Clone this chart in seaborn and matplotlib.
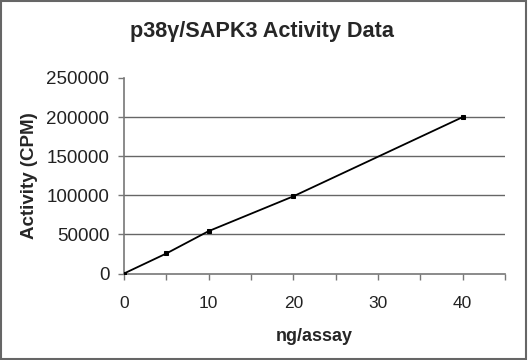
import matplotlib
matplotlib.use("Agg")
import matplotlib.pyplot as plt
import seaborn as sns
import pandas as pd
from matplotlib.patches import Rectangle

ng = [0, 5, 10, 20, 40]
activity = [0, 25600, 54200, 98700, 200000]
yticks = [0, 50000, 100000, 150000, 200000, 250000]
xticks = [0, 10, 20, 30, 40]

sns.set_theme(style="white")
plt.rcParams['font.family'] = ['Liberation Sans', 'DejaVu Sans']

df = pd.DataFrame({"ng": ng, "act": activity})
fig = plt.figure(figsize=(5.28, 3.6), dpi=100)
ax = fig.add_axes([124/528, 1-273.5/360, (505-124)/528, (273.5-78)/360])

for v in yticks[1:-1]:
    ax.axhline(v, color="#666666", lw=1, zorder=1)

sns.lineplot(data=df, x="ng", y="act", ax=ax, color="black", lw=1.3,
             marker="s", markersize=3.3, markeredgecolor="black", zorder=3)

ax.set_xlim(0, 45)
ax.set_ylim(0, 250000)
ax.set_xticks(range(0, 46, 5))
ax.set_xticklabels([str(v) if v % 10 == 0 else "" for v in range(0, 46, 5)])
ax.set_yticks(yticks)
ax.set_yticklabels([str(v) for v in yticks])
ax.tick_params(axis="both", direction="out", length=4.5, width=1, color="#777777",
               labelcolor="#222222", bottom=True, left=True)
ax.tick_params(axis="y", labelsize=13.5, pad=6)
ax.tick_params(axis="x", labelsize=12.5, pad=12)
for s in ["top", "right"]:
    ax.spines[s].set_visible(False)
for s in ["left", "bottom"]:
    ax.spines[s].set_color("#777777")
    ax.spines[s].set_linewidth(1.2)

ax.set_xlabel("ng/assay", fontsize=13, fontweight="bold", labelpad=12)
ax.set_ylabel("Activity (CPM)", fontsize=13.5, fontweight="bold", labelpad=6)
fig.text(262/528, 1-31/360, "p38\u03b3/SAPK3 Activity Data", ha="center", va="center",
         fontsize=15.6, fontweight="bold")

fig.patches.append(Rectangle((0.002, 0.003), 0.995, 0.994, transform=fig.transFigure,
                             fill=False, edgecolor="#666666", lw=1.5))

fig.savefig("out.png", dpi=100)
